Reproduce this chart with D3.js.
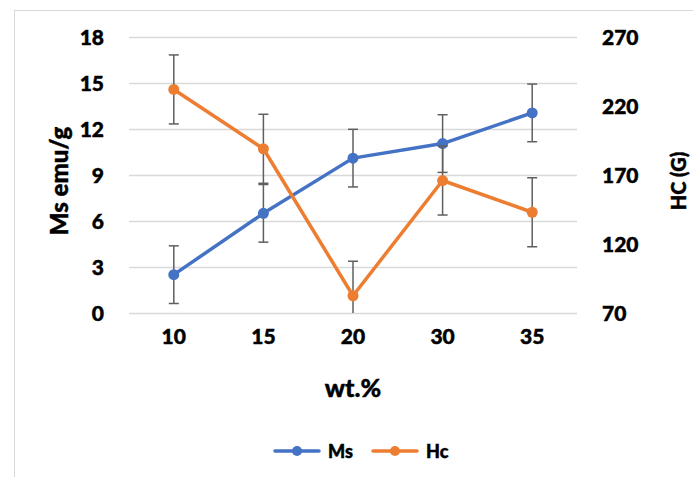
<!DOCTYPE html>
<html>
<head>
<meta charset="utf-8">
<script src="https://cdn.jsdelivr.net/npm/d3@7"></script>
<style>
  html, body { margin: 0; padding: 0; background: #fff; }
  svg { display: block; }
  text { font-family: Lato, "Open Sans", sans-serif; font-weight: 900; fill: #000; stroke: #000; stroke-width: 0.45px; }
</style>
</head>
<body>
<svg id="chart" width="693" height="477"></svg>
<script>
// wt.% loading levels
const categories = ["10", "15", "20", "30", "35"];
// Saturation magnetisation (emu/g) and its error
const msValues = [2.5, 6.5, 10.1, 11.05, 13.05];
const msErr = [1.88, 1.88, 1.88, 1.88, 1.88];
// Coercivity (G) and its error
const hcValues = [232, 189, 82.5, 166, 143];
const hcErr = [25, 25, 25, 25, 25];
// Axis ticks
const leftTicks = [0, 3, 6, 9, 12, 15, 18];
const rightTicks = [70, 120, 170, 220, 270];

const svg = d3.select("#chart");
const W = 693, H = 477;
const plot = { left: 129, right: 577, top: 37, bottom: 313 };

// Outer chart border
svg.append("rect")
  .attr("x", 14.5).attr("y", 10.5)
  .attr("width", W + 20).attr("height", H + 20)
  .attr("fill", "none").attr("stroke", "#d9d9d9").attr("stroke-width", 1);

const x = d3.scaleBand().domain(categories).range([plot.left, plot.right]);
const yL = d3.scaleLinear().domain([0, 18]).range([plot.bottom, plot.top]);
const yR = d3.scaleLinear().domain([70, 270]).range([plot.bottom, plot.top]);
const cx = d => x(d) + x.bandwidth() / 2;

// Horizontal gridlines
svg.append("g")
  .selectAll("line").data(leftTicks).join("line")
  .attr("x1", plot.left).attr("x2", plot.right)
  .attr("y1", d => Math.round(yL(d)) + 0.5).attr("y2", d => Math.round(yL(d)) + 0.5)
  .attr("stroke", "#d9d9d9").attr("stroke-width", 1.5);

// Left axis
const leftAxis = svg.append("g")
  .attr("transform", `translate(${plot.left},0)`)
  .call(d3.axisLeft(yL).tickValues(leftTicks).tickSize(0).tickPadding(25));
leftAxis.select(".domain").remove();
leftAxis.selectAll("text").style("font-size", "21px").attr("dy", "0.36em");

// Right axis
const rightAxis = svg.append("g")
  .attr("transform", `translate(${plot.right},0)`)
  .call(d3.axisRight(yR).tickValues(rightTicks).tickSize(0).tickPadding(25));
rightAxis.select(".domain").remove();
rightAxis.selectAll("text").style("font-size", "21px").attr("dy", "0.36em");

// Bottom axis
const bottomAxis = svg.append("g")
  .attr("transform", `translate(0,${plot.bottom})`)
  .call(d3.axisBottom(x).tickSize(0).tickPadding(25));
bottomAxis.select(".domain").remove();
bottomAxis.selectAll("text").style("font-size", "21px").attr("dy", "0.3em");

// Axis titles
svg.append("text")
  .attr("transform", `translate(68,181) rotate(-90)`)
  .attr("text-anchor", "middle")
  .style("font-size", "24px")
  .text("Ms emu/g");
svg.append("text")
  .attr("transform", `translate(686,181) rotate(-90)`)
  .attr("text-anchor", "middle")
  .style("font-size", "20px")
  .text("HC (G)");
svg.append("text")
  .attr("x", 353).attr("y", 397)
  .attr("text-anchor", "middle")
  .style("font-size", "25px")
  .text("wt.%");

// Plot-area clip so error bars stop at the axis limits
svg.append("clipPath").attr("id", "plotClip")
  .append("rect")
  .attr("x", plot.left).attr("y", plot.top)
  .attr("width", plot.right - plot.left).attr("height", plot.bottom - plot.top);

const series = [
  { name: "Ms", values: msValues, err: msErr, y: yL, color: "#4472C4" },
  { name: "Hc", values: hcValues, err: hcErr, y: yR, color: "#ED7D31" }
];

const cap = 5;
series.forEach(s => {
  const g = svg.append("g");
  const pts = categories.map((c, i) => ({ c, v: s.values[i], e: s.err[i] }));

  // Error bars
  const eb = g.append("g").attr("clip-path", "url(#plotClip)")
    .attr("stroke", "#5f5f5f").attr("stroke-width", 1.5);
  eb.selectAll("line.stem").data(pts).join("line").attr("class", "stem")
    .attr("x1", d => cx(d.c)).attr("x2", d => cx(d.c))
    .attr("y1", d => s.y(d.v + d.e)).attr("y2", d => s.y(d.v - d.e));
  eb.selectAll("line.top").data(pts).join("line").attr("class", "top")
    .attr("x1", d => cx(d.c) - cap).attr("x2", d => cx(d.c) + cap)
    .attr("y1", d => s.y(d.v + d.e)).attr("y2", d => s.y(d.v + d.e));
  eb.selectAll("line.bot").data(pts).join("line").attr("class", "bot")
    .attr("x1", d => cx(d.c) - cap).attr("x2", d => cx(d.c) + cap)
    .attr("y1", d => s.y(d.v - d.e)).attr("y2", d => s.y(d.v - d.e));

  // Line
  g.append("path").datum(pts)
    .attr("fill", "none").attr("stroke", s.color).attr("stroke-width", 3.5)
    .attr("stroke-linejoin", "round").attr("stroke-linecap", "round")
    .attr("d", d3.line().x(d => cx(d.c)).y(d => s.y(d.v)));

  // Markers
  g.selectAll("circle").data(pts).join("circle")
    .attr("cx", d => cx(d.c)).attr("cy", d => s.y(d.v)).attr("r", 5.5)
    .attr("fill", s.color);
});

// Legend
const legendItems = [
  { name: "Ms", color: "#4472C4", x: 275 },
  { name: "Hc", color: "#ED7D31", x: 373 }
];
const lg = svg.append("g");
legendItems.forEach(it => {
  lg.append("line")
    .attr("x1", it.x).attr("x2", it.x + 44)
    .attr("y1", 451).attr("y2", 451)
    .attr("stroke", it.color).attr("stroke-width", 3.5).attr("stroke-linecap", "round");
  lg.append("circle").attr("cx", it.x + 22).attr("cy", 451).attr("r", 5).attr("fill", it.color);
  lg.append("text")
    .attr("x", it.x + 53).attr("y", 457.5)
    .style("font-size", "18px")
    .text(it.name);
});
</script>
</body>
</html>
